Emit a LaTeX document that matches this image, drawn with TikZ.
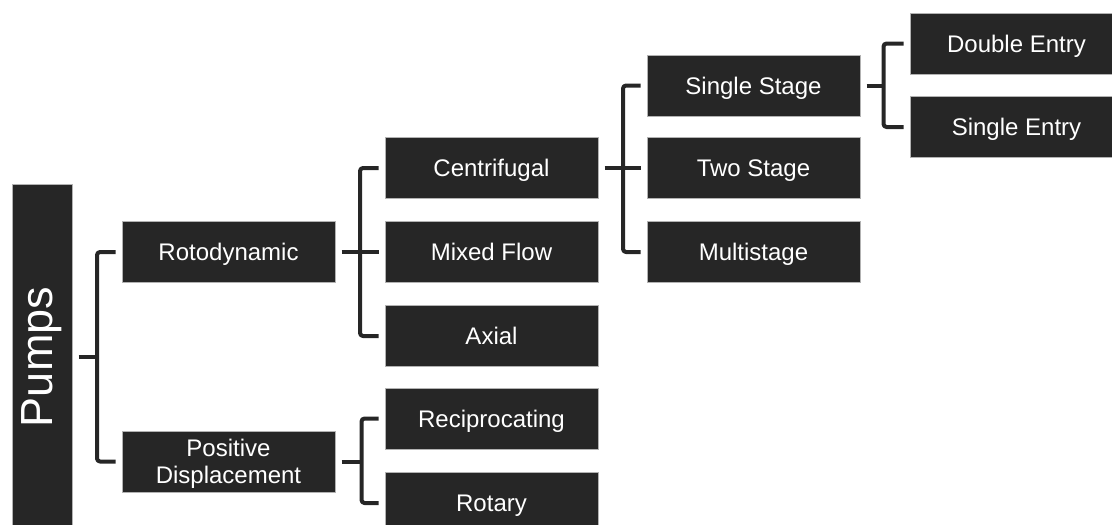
\documentclass[tikz,border=0pt]{standalone}
\usepackage{fontspec}
\setmainfont{Liberation Sans}
\definecolor{boxgray}{HTML}{262626}
\begin{document}
\begin{tikzpicture}[x=1pt, y=-1pt,
  box/.style={draw=gray!60, line width=0.6pt, fill=boxgray, text=white, minimum width=213pt, minimum height=61pt, inner sep=0pt, outer sep=6.5pt, align=center, font=\fontsize{24}{27}\selectfont, text height=17.2pt, text depth=0pt},
  link/.style={draw=boxgray, line width=4pt, rounded corners=3pt, line join=round}]
  \useasboundingbox (0,0) rectangle (1112,525);
  \clip (0,0) rectangle (1112,525);
  % nodes
  \node[box, minimum width=60pt, minimum height=346pt, text height=, text depth=] (pumps) at (42,357) {\rotatebox{90}{\fontsize{45}{45}\selectfont Pumps}};
  \node[box] (roto) at (228.5,252) {Rotodynamic};
  \node[box, text height=44.2pt] (posdisp) at (228.5,461.5) {Positive\\Displacement};
  \node[box] (centri) at (491.5,168) {Centrifugal};
  \node[box] (mixed) at (491.5,252) {Mixed Flow};
  \node[box] (axial) at (491.5,336) {Axial};
  \node[box] (recip) at (491.5,418.5) {Reciprocating};
  \node[box] (rotary) at (491.5,503) {Rotary};
  \node[box] (single) at (753.5,85.5) {Single Stage};
  \node[box] (two) at (753.5,168) {Two Stage};
  \node[box] (multi) at (753.5,252) {Multistage};
  \node[box] (double) at (1016.5,43.5) {Double Entry};
  \node[box] (singleent) at (1016.5,127) {Single Entry};
  % brackets
  \draw[link] (pumps.east) -- ++(18.5,0) coordinate (pb);
  \draw[link] (roto.west) -| (pb) |- (posdisp.west);
  \draw[link] (roto.east) -- ++(18.5,0) coordinate (rb);
  \draw[link] (centri.west) -| (rb) |- (axial.west);
  \draw[link] (mixed.west) -- (rb);
  \draw[link] (posdisp.east) -- ++(20,0) coordinate (db);
  \draw[link] (recip.west) -| (db) |- (rotary.west);
  \draw[link] (centri.east) -- ++(18.5,0) coordinate (cb);
  \draw[link] (single.west) -| (cb) |- (multi.west);
  \draw[link] (two.west) -- (cb);
  \draw[link] (single.east) -- ++(17,0) coordinate (sb);
  \draw[link] (double.west) -| (sb) |- (singleent.west);
\end{tikzpicture}
\end{document}
